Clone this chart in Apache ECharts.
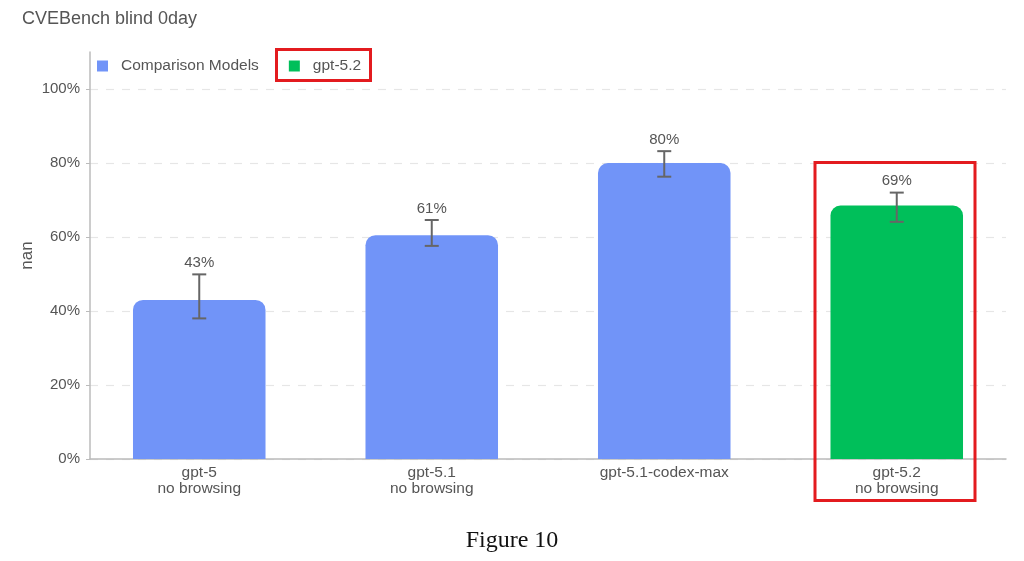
<!DOCTYPE html>
<html>
<head>
<meta charset="utf-8">
<title>CVEBench blind 0day</title>
<script src="https://cdn.jsdelivr.net/npm/echarts@6/dist/echarts.min.js"></script>
<style>
  html, body { margin: 0; padding: 0; background: #fff; }
  #chart { width: 1024px; height: 561px; }
</style>
</head>
<body>
<div id="chart"></div>
<script>
// data
var categories = ['gpt-5\nno browsing', 'gpt-5.1\nno browsing', 'gpt-5.1-codex-max', 'gpt-5.2\nno browsing'];
var groups = ['Comparison Models', 'Comparison Models', 'Comparison Models', 'gpt-5.2'];
var values = [0.43, 0.605, 0.80, 0.685];
var errLow = [0.38, 0.576, 0.763, 0.641];
var errHigh = [0.499, 0.646, 0.832, 0.72];
var valueLabels = ['43%', '61%', '80%', '69%'];
var yTicks = [0, 0.2, 0.4, 0.6, 0.8, 1.0];

var FONT = '"Liberation Sans", Arial, sans-serif';
var colors = { 'Comparison Models': '#7194f8', 'gpt-5.2': '#00bf5a' };

var chart = echarts.init(document.getElementById('chart'));

// one series per group, stacked so each bar sits in the middle of its slot
function groupData(name) {
  return values.map(function (v, i) { return groups[i] === name ? v : '-'; });
}

var errData = values.map(function (v, i) { return [i, errLow[i], errHigh[i], valueLabels[i]]; });

var option = {
  animation: false,
  title: {
    text: 'CVEBench blind 0day',
    left: 17,
    top: 5,
    textStyle: { fontFamily: FONT, fontSize: 18, fontWeight: 'normal', color: '#555' }
  },
  legend: {
    left: 92,
    top: 53,
    itemWidth: 11,
    itemHeight: 11,
    itemGap: 30,
    icon: 'rect',
    textStyle: { fontFamily: FONT, fontSize: 15.5, color: '#555', padding: [0, 0, 0, 8] },
    data: ['Comparison Models', 'gpt-5.2']
  },
  grid: [
    { left: 83, right: 11, top: 52, bottom: 102 },  // bars
    { left: 90, right: 18, top: 52, bottom: 102 }   // visible axes
  ],
  xAxis: [
    {
      type: 'category',
      gridIndex: 0,
      data: categories,
      axisLine: { show: false },
      axisTick: { show: false },
      axisLabel: { fontFamily: FONT, fontSize: 15.5, color: '#555', lineHeight: 16, margin: 6 }
    },
    {
      type: 'category',
      gridIndex: 1,
      data: categories,
      axisLine: { show: true, lineStyle: { color: '#bbb', width: 1.5 } },
      axisTick: { show: false },
      axisLabel: { show: false }
    }
  ],
  yAxis: [
    {
      type: 'value',
      gridIndex: 0,
      min: 0,
      max: 1.1,
      show: false
    },
    {
      type: 'value',
      gridIndex: 1,
      min: 0,
      max: 1.1,
      interval: 0.2,
      name: 'nan',
      nameLocation: 'middle',
      nameGap: 54,
      nameMoveOverlap: false,
      nameTextStyle: { fontFamily: FONT, fontSize: 17, color: '#555' },
      axisLine: { show: true, lineStyle: { color: '#bbb', width: 1.5 } },
      axisTick: { show: true, length: 4, lineStyle: { color: '#bbb' }, customValues: yTicks },
      axisLabel: {
        fontFamily: FONT, fontSize: 15, color: '#555', margin: 10,
        customValues: yTicks,
        formatter: function (v) { return Math.round(v * 100) + '%'; }
      },
      splitLine: {
        show: true,
        lineStyle: { color: '#e6e6e6', type: [8, 8], width: 1.2 }
      }
    }
  ],
  series: [
    {
      name: 'Comparison Models',
      type: 'bar',
      stack: 'all',
      xAxisIndex: 0,
      yAxisIndex: 0,
      barWidth: '57%',
      itemStyle: { color: colors['Comparison Models'], borderRadius: [10, 10, 0, 0] },
      data: groupData('Comparison Models')
    },
    {
      name: 'gpt-5.2',
      type: 'bar',
      stack: 'all',
      xAxisIndex: 0,
      yAxisIndex: 0,
      barWidth: '57%',
      itemStyle: { color: colors['gpt-5.2'], borderRadius: [10, 10, 0, 0] },
      data: groupData('gpt-5.2')
    },
    {
      // error bars and value labels
      type: 'custom',
      xAxisIndex: 0,
      yAxisIndex: 0,
      z: 10,
      data: errData,
      renderItem: function (params, api) {
        var x = api.coord([api.value(0), 0])[0];
        var lo = api.coord([api.value(0), api.value(1)])[1];
        var hi = api.coord([api.value(0), api.value(2)])[1];
        var half = 7;
        var st = { stroke: '#666', lineWidth: 2 };
        return {
          type: 'group',
          children: [
            { type: 'line', shape: { x1: x, y1: hi, x2: x, y2: lo }, style: st },
            { type: 'line', shape: { x1: x - half, y1: hi, x2: x + half, y2: hi }, style: st },
            { type: 'line', shape: { x1: x - half, y1: lo, x2: x + half, y2: lo }, style: st },
            {
              type: 'text',
              style: {
                x: x, y: hi - 4,
                text: errData[params.dataIndex][3],
                align: 'center', verticalAlign: 'bottom',
                font: '15px ' + FONT, fill: '#555'
              }
            }
          ]
        };
      }
    }
  ],
  graphic: [
    // red highlight boxes
    {
      type: 'rect',
      shape: { x: 276.5, y: 49.5, width: 94, height: 31 },
      style: { fill: null, stroke: '#e31b1f', lineWidth: 3 },
      z: 100
    },
    {
      type: 'rect',
      shape: { x: 815, y: 162.5, width: 160, height: 338 },
      style: { fill: null, stroke: '#e31b1f', lineWidth: 3 },
      z: 100
    },
    {
      type: 'text',
      left: 'center',
      top: 529,
      style: { text: 'Figure 10', font: '24px "Liberation Serif", "DejaVu Serif", serif', fill: '#111' }
    }
  ]
};

chart.setOption(option);
</script>
</body>
</html>
